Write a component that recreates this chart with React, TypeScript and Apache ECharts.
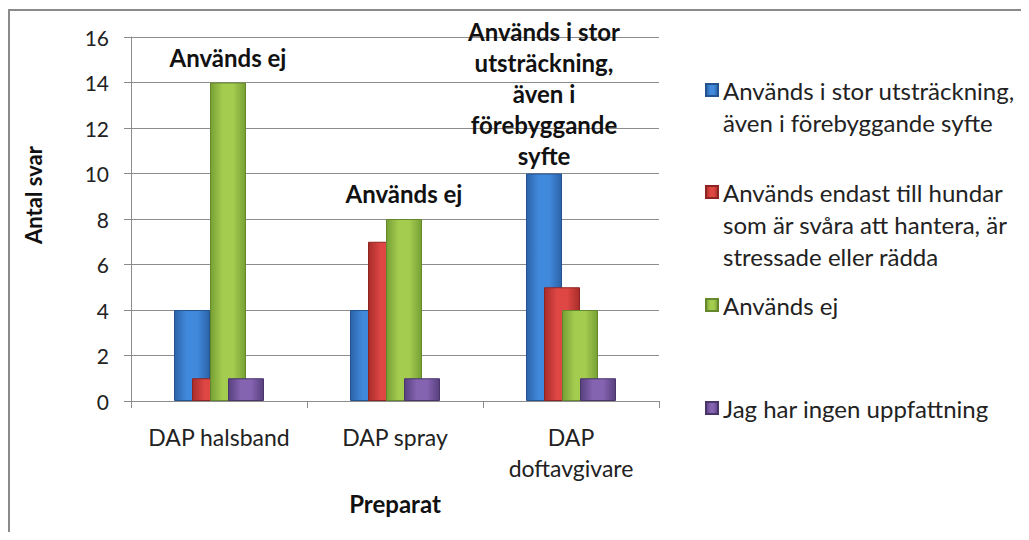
import React, { useEffect, useRef } from "react";
import * as echarts from "echarts";

const categories = ["DAP halsband", "DAP spray", "DAP doftavgivare"];
const categoryLabels = ["DAP halsband", "DAP spray", "DAP\ndoftavgivare"];
const seriesNames = [
  "Används i stor utsträckning, även i förebyggande syfte",
  "Används endast till hundar som är svåra att hantera, är stressade eller rädda",
  "Används ej",
  "Jag har ingen uppfattning",
];
const legendLines = [
  ["Används i stor utsträckning,", "även i förebyggande syfte"],
  ["Används endast till hundar", "som är svåra att hantera, är", "stressade eller rädda"],
  ["Används ej"],
  ["Jag har ingen uppfattning"],
];
const storValues = [4, 4, 10];
const endastValues = [1, 7, 5];
const ejValues = [14, 8, 4];
const ingenValues = [1, 1, 1];
const yTicks = [0, 2, 4, 6, 8, 10, 12, 14, 16];
const storLabel = "Används i stor\nutsträckning,\nävan i\nförebyggande\nsyfte".replace("ävan", "även");
const ejLabel = "Används ej";

const FONT = "Lato, 'Open Sans', sans-serif";
const LEG_LH = 32;
const ICON = 12;

function grad(edge: string, mid: string) {
  return new echarts.graphic.LinearGradient(0, 0, 1, 0, [
    { offset: 0, color: edge },
    { offset: 0.35, color: mid },
    { offset: 0.65, color: mid },
    { offset: 1, color: edge },
  ]);
}

const colors = [
  { edge: "#2b63a8", mid: "#4189dd", border: "#23548f" },
  { edge: "#a82d2a", mid: "#de4744", border: "#8e2523" },
  { edge: "#77a035", mid: "#a4cc4f", border: "#66882c" },
  { edge: "#58407e", mid: "#8463b0", border: "#4a356b" },
];

export default function App() {
  const ref = useRef<HTMLDivElement>(null);
  useEffect(() => {
    if (!ref.current) return;
    const chart = echarts.init(ref.current, undefined, { renderer: "svg" });
    const valuesList = [storValues, endastValues, ejValues, ingenValues];
    const labelStyle = {
      fontFamily: FONT,
      fontWeight: "bold" as const,
      fontSize: 24,
      lineHeight: 31,
      color: "#111",
      position: "top" as const,
    };
    const series = valuesList.map((vals, i) => ({
      name: seriesNames[i],
      type: "bar",
      barWidth: 36,
      barGap: "-50%",
      itemStyle: {
        color: grad(colors[i].edge, colors[i].mid),
        borderColor: colors[i].border,
        borderWidth: 1,
      },
      data: vals.map((v, j) => {
        if (i === 0 && j === 2) {
          return { value: v, label: { show: true, formatter: storLabel, distance: 3, ...labelStyle } };
        }
        if (i === 2 && j < 2) {
          return { value: v, label: { show: true, formatter: ejLabel, distance: 10, ...labelStyle } };
        }
        return v;
      }),
    }));
    const legendTops = [90, 192, 305, 408];
    const legends = seriesNames.map((n, i) => {
      const lines = legendLines[i].length;
      const h = LEG_LH * (lines - 1) + ICON;
      const iconPath = `path://M0,0h${ICON}v${ICON}h-${ICON}z M6,${h}L6.01,${h}`;
      return {
        data: [n],
        left: 697,
        top: legendTops[i] - 8 - LEG_LH / 2,
        padding: 0,
        orient: "vertical",
        icon: iconPath,
        symbolKeepAspect: false,
        itemWidth: ICON,
        itemHeight: h,
        selectedMode: false,
        formatter: () => legendLines[i].join("\n"),
        textStyle: { fontFamily: FONT, fontSize: 24, lineHeight: LEG_LH, color: "#222" },
      };
    });
    chart.setOption({
      animation: false,
      color: colors.map((c) => c.mid),
      grid: { left: 123, top: 29, width: 528, height: 364, containLabel: false },
      xAxis: {
        type: "category",
        data: categories,
        axisLine: { show: true, lineStyle: { color: "#8c8c8c", width: 1 } },
        axisTick: { show: true, length: 7, lineStyle: { color: "#8c8c8c" } },
        axisLabel: {
          interval: 0,
          margin: 20,
          fontFamily: FONT,
          fontSize: 23,
          lineHeight: 31,
          color: "#222",
          formatter: (_v: string, idx: number) => categoryLabels[idx],
        },
        name: "Preparat",
        nameLocation: "middle",
        nameGap: 90,
        nameTextStyle: { fontFamily: FONT, fontSize: 24, fontWeight: "bold", color: "#111" },
      },
      yAxis: {
        type: "value",
        min: yTicks[0],
        max: yTicks[yTicks.length - 1],
        interval: 2,
        axisLine: { show: true, lineStyle: { color: "#8c8c8c", width: 1 } },
        axisTick: { show: true, length: 7, lineStyle: { color: "#8c8c8c" } },
        splitLine: { show: true, lineStyle: { color: "#8c8c8c", width: 1 } },
        axisLabel: { margin: 22, fontFamily: FONT, fontSize: 21, color: "#222" },
      },
      legend: legends,
      graphic: [
        { type: "line", shape: { x1: 0, y1: 2, x2: 1013, y2: 2 }, style: { stroke: "#8a8a8a", lineWidth: 2 } },
        { type: "line", shape: { x1: 1, y1: 2, x2: 1, y2: 524 }, style: { stroke: "#8a8a8a", lineWidth: 2 } },
        {
          type: "text",
          x: 25,
          y: 187,
          rotation: Math.PI / 2,
          style: {
            text: "Antal svar",
            fontFamily: FONT,
            fontSize: 22,
            fontWeight: "bold",
            fill: "#111",
            align: "center",
            verticalAlign: "middle",
          },
        },
      ],
      series,
    });
    return () => chart.dispose();
  }, []);
  return <div ref={ref} style={{ width: 1013, height: 524 }} />;
}
